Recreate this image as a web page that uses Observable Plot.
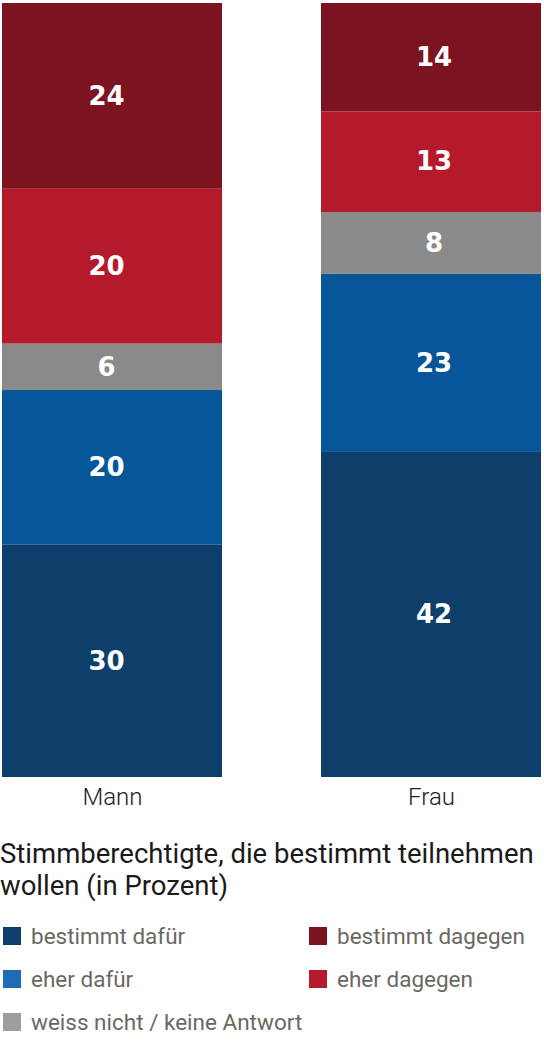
<!DOCTYPE html>
<html>
<head>
<meta charset="utf-8">
<script src="https://cdn.jsdelivr.net/npm/d3@7"></script>
<script src="https://cdn.jsdelivr.net/npm/@observablehq/plot@0.6"></script>
<style>
  html, body { margin: 0; padding: 0; background: #fff; }
  body { width: 544px; font-family: Roboto, sans-serif; overflow: hidden; }
  #title { font-size: 27.5px; line-height: 32px; color: #1a1a1a; margin: 16px 0 0 0; white-space: nowrap; }
  #legend { display: grid; grid-template-columns: 306px 238px; row-gap: 0; margin-top: 12px; }
  .item { display: flex; align-items: center; height: 43px; font-size: 22.5px; color: #6b6861; white-space: nowrap; }
  .sw { width: 18px; height: 18px; margin: 0 10px 0 3px; flex: none; }
</style>
</head>
<body>
<div id="chart"></div>
<div id="title">Stimmberechtigte, die bestimmt teilnehmen<br>wollen (in Prozent)</div>
<div id="legend"></div>
<script>
const groups = ["Mann", "Frau"];
const categories = ["bestimmt dafür", "eher dafür", "weiss nicht / keine Antwort", "eher dagegen", "bestimmt dagegen"];
const barColors = ["#0e3f6a", "#07569a", "#8a8a8a", "#b5192c", "#7b1420"];
const legendColors = ["#0e3f6a", "#1f6bb5", "#9e9e9e", "#b5192c", "#7b1420"];
const mannValues = [30, 20, 6, 20, 24];
const frauValues = [42, 23, 8, 13, 14];

const data = [];
categories.forEach((c, i) => {
  data.push({group: "Mann", category: c, value: mannValues[i]});
  data.push({group: "Frau", category: c, value: frauValues[i]});
});

const stackOpts = {x: "group", y: "value", z: "category", order: categories};
const labelStyle = {text: d => String(d.value), fill: "white", fontSize: 26, fontWeight: "bold", fontFamily: "DejaVu Sans"};

const chart = Plot.plot({
  width: 544,
  height: 822,
  marginTop: 3,
  marginBottom: 45,
  marginLeft: 1,
  marginRight: 2,
  style: {fontFamily: "Roboto, sans-serif", background: "#fff"},
  x: {domain: groups, paddingInner: 0.309, paddingOuter: 0, label: null},
  y: {domain: [0, 100], axis: null},
  color: {domain: categories, range: barColors},
  marks: [
    Plot.barY(data, Plot.stackY({...stackOpts, fill: "category"})),
    Plot.text(data, Plot.stackY({...stackOpts, ...labelStyle, filter: d => d.group === "Mann", dx: -6})),
    Plot.text(data, Plot.stackY({...stackOpts, ...labelStyle, filter: d => d.group === "Frau", dx: 2.5})),
    Plot.axisX({tickSize: 0, tickPadding: 10, fontSize: 24, fill: "#222", fontWeight: 300, label: null})
  ]
});
document.getElementById("chart").appendChild(chart);

const legend = document.getElementById("legend");
const order = [0, 4, 1, 3, 2];
order.forEach(i => {
  const item = document.createElement("div");
  item.className = "item";
  const sw = document.createElement("span");
  sw.className = "sw";
  sw.style.background = legendColors[i];
  const label = document.createElement("span");
  label.textContent = categories[i];
  item.appendChild(sw);
  item.appendChild(label);
  legend.appendChild(item);
});
</script>
</body>
</html>
